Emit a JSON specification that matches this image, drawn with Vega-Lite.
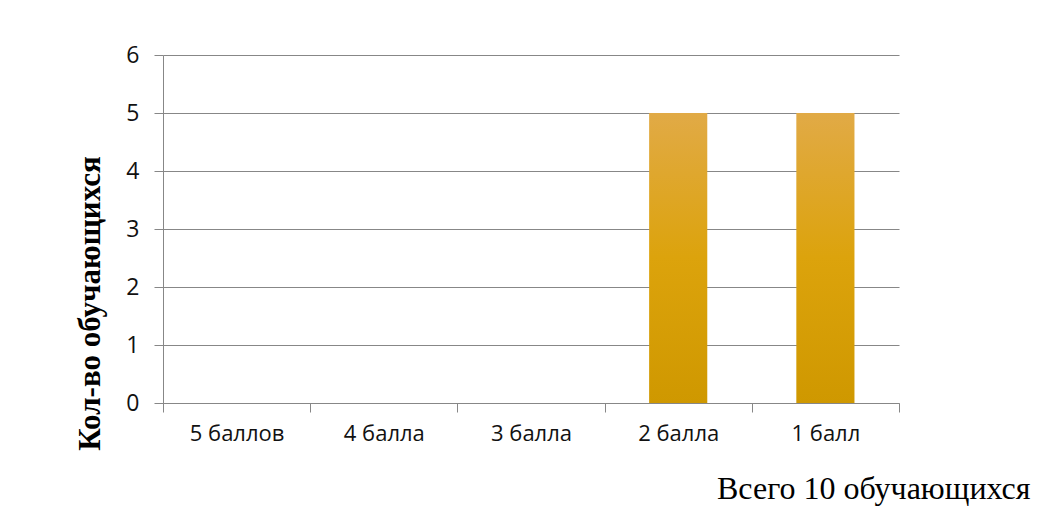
{
  "$schema": "https://vega.github.io/schema/vega-lite/v6.json",
  "width": 736,
  "height": 348,
  "autosize": {"type": "none"},
  "padding": {"left": 163, "top": 55, "right": 155, "bottom": 110},
  "background": "#ffffff",
  "config": {
    "view": {"stroke": null},
    "axis": {
      "labelFont": "Open Sans",
      "labelColor": "#111111",
      "domainColor": "#878787",
      "tickColor": "#878787",
      "gridColor": "#878787",
      "domainWidth": 1,
      "tickWidth": 1,
      "gridWidth": 1
    }
  },
  "data": {
    "values": [
      {"grade": "5 баллов", "count": 0},
      {"grade": "4 балла", "count": 0},
      {"grade": "3 балла", "count": 0},
      {"grade": "2 балла", "count": 5},
      {"grade": "1 балл", "count": 5}
    ]
  },
  "mark": {
    "type": "bar",
    "width": {"band": 0.395},
    "fill": {
      "gradient": "linear",
      "x1": 0, "y1": 0, "x2": 0, "y2": 1,
      "stops": [
        {"offset": 0, "color": "#E1AA46"},
        {"offset": 0.5, "color": "#DCA30C"},
        {"offset": 1, "color": "#CF9800"}
      ]
    }
  },
  "encoding": {
    "x": {
      "field": "grade",
      "type": "nominal",
      "sort": null,
      "scale": {"paddingInner": 0, "paddingOuter": 0},
      "axis": {
        "labelAngle": 0,
        "labelFontSize": 22,
        "labelPadding": 11,
        "tickBand": "extent",
        "tickSize": 9,
        "title": "Всего 10 обучающихся",
        "titleFont": "Liberation Serif",
        "titleFontSize": 32,
        "titleFontWeight": "normal",
        "titleColor": "#000000",
        "titleAlign": "right",
        "titleAnchor": null,
        "titleBaseline": "alphabetic",
        "titleX": 867,
        "titleY": 95
      }
    },
    "y": {
      "field": "count",
      "type": "quantitative",
      "scale": {"domain": [0, 6], "nice": false},
      "axis": {
        "values": [0, 1, 2, 3, 4, 5, 6],
        "labelFontSize": 23,
        "labelPadding": 15,
        "tickSize": 9,
        "grid": true,
        "title": "Кол-во обучающихся",
        "titleFont": "Liberation Serif",
        "titleFontSize": 31,
        "titleFontWeight": "bold",
        "titleColor": "#000000",
        "titleAngle": -90,
        "titleAlign": "center",
        "titleBaseline": "middle",
        "titleX": -73,
        "titleY": 248
      }
    }
  }
}
